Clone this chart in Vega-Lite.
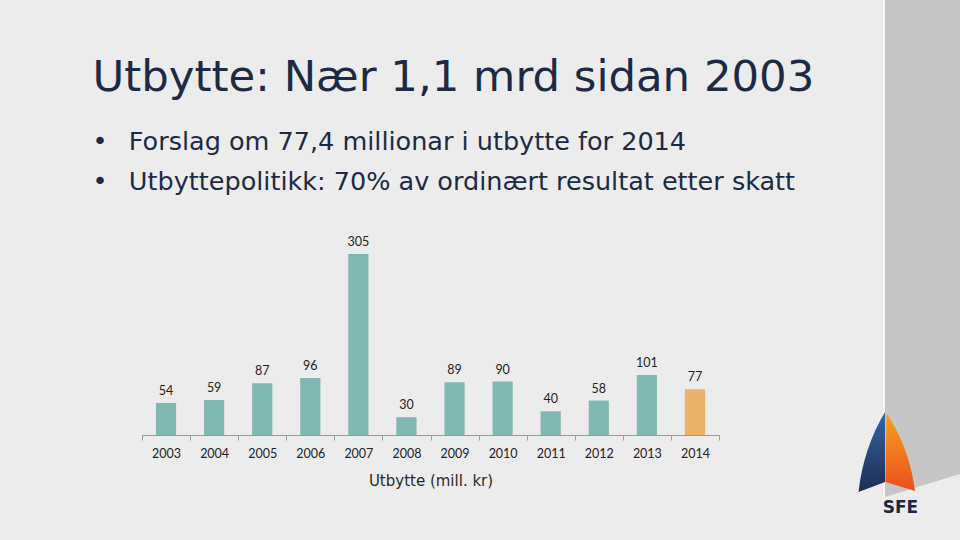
{
  "$schema": "https://vega.github.io/schema/vega-lite/v6.json",
  "background": "#ececec",
  "padding": {"left": 92, "top": 0, "right": 0, "bottom": 25},
  "spacing": 43,
  "config": {"view": {"stroke": null}, "font": "DejaVu Sans"},
  "hconcat": [
    {
      "width": 577,
      "height": 181,
      "title": {
        "text": [" ", "Utbytte: Nær 1,1 mrd sidan 2003"],
        "subtitle": ["•\u00a0\u00a0\u2009Forslag om 77,4 millionar i utbytte for 2014", "•\u00a0\u00a0\u2009Utbyttepolitikk: 70% av ordinært resultat etter skatt"],
        "anchor": "start",
        "dx": -49,
        "font": "DejaVu Sans",
        "fontSize": 43.4,
        "fontWeight": "normal",
        "color": "#1d2a44",
        "lineHeight": 56,
        "baseline": "top",
        "subtitleFont": "DejaVu Sans",
        "subtitleFontSize": 25.5,
        "subtitleColor": "#1d2a44",
        "subtitleLineHeight": 40,
        "subtitlePadding": 29,
        "offset": 40
      },
      "data": {
        "values": [
          {"year": "2003", "value": 54, "status": "utbetalt"},
          {"year": "2004", "value": 59, "status": "utbetalt"},
          {"year": "2005", "value": 87, "status": "utbetalt"},
          {"year": "2006", "value": 96, "status": "utbetalt"},
          {"year": "2007", "value": 305, "status": "utbetalt"},
          {"year": "2008", "value": 30, "status": "utbetalt"},
          {"year": "2009", "value": 89, "status": "utbetalt"},
          {"year": "2010", "value": 90, "status": "utbetalt"},
          {"year": "2011", "value": 40, "status": "utbetalt"},
          {"year": "2012", "value": 58, "status": "utbetalt"},
          {"year": "2013", "value": 101, "status": "utbetalt"},
          {"year": "2014", "value": 77, "status": "forslag"}
        ]
      },
      "layer": [
        {
          "mark": {"type": "bar", "width": {"band": 0.42}},
          "encoding": {
            "x": {
              "field": "year",
              "type": "ordinal",
              "scale": {"paddingInner": 0, "paddingOuter": 0},
              "axis": {
                "title": "Utbytte (mill. kr)",
                "titleFont": "DejaVu Sans",
                "titleFontSize": 15,
                "titleFontWeight": "normal",
                "titleColor": "#2a2a2a",
                "titlePadding": 14,
                "labelAngle": 0,
                "labelFont": "Lato",
                "labelFontSize": 12.5,
                "labelColor": "#222222",
                "labelPadding": 7,
                "tickBand": "extent",
                "tickSize": 5,
                "tickColor": "#9a9a9a",
                "domainColor": "#9a9a9a",
                "grid": false
              }
            },
            "y": {"field": "value", "type": "quantitative", "scale": {"domain": [0, 305], "nice": false}, "axis": null},
            "color": {
              "field": "status",
              "type": "nominal",
              "scale": {"domain": ["utbetalt", "forslag"], "range": ["#80b9b2", "#eab26a"]},
              "legend": null
            }
          }
        },
        {
          "mark": {"type": "text", "baseline": "alphabetic", "dy": -8, "font": "Lato", "fontSize": 12.5, "color": "#222222"},
          "encoding": {
            "x": {"field": "year", "type": "ordinal"},
            "y": {"field": "value", "type": "quantitative"},
            "text": {"field": "value", "type": "quantitative"}
          }
        }
      ]
    },
    {
      "width": 75,
      "height": 181,
      "view": {"stroke": null},
      "title": {
        "text": "SFE",
        "orient": "bottom",
        "anchor": "middle",
        "dx": -22,
        "offset": 2,
        "font": "DejaVu Sans",
        "fontWeight": "bold",
        "fontSize": 17,
        "color": "#1b2540",
        "baseline": "top"
      },
      "data": {"values": [{"logo": "SFE"}]},
      "layer": [
        {
          "mark": {"type": "point", "shape": "M -37.5 -344.5 L 37.5 -344.5 L 37.5 129.5 L -37.5 152.5 Z", "size": 4, "filled": true, "color": "#c6c6c6", "opacity": 1, "strokeWidth": 0},
          "encoding": {}
        },
        {
          "mark": {"type": "point", "shape": "M -39.5 -344.5 L -37.5 -344.5 L -37.5 152.5 L -39.5 153 Z", "size": 4, "filled": true, "color": "#f6f6f6", "opacity": 1, "strokeWidth": 0},
          "encoding": {}
        },
        {
          "mark": {
            "type": "point",
            "shape": "M -37.5 67.5 L -37.5 137.5 L -64 147.5 Q -59 103.5 -37.5 67.5 Z",
            "size": 4,
            "filled": true,
            "opacity": 1,
            "strokeWidth": 0,
            "color": {"gradient": "linear", "x1": 0, "y1": 0, "x2": 0, "y2": 1, "stops": [{"offset": 0, "color": "#3566a6"}, {"offset": 1, "color": "#1d2d52"}]}
          },
          "encoding": {}
        },
        {
          "mark": {
            "type": "point",
            "shape": "M -36 68.5 L -37 137.5 L -7.5 146.5 Q -13 103.5 -36 68.5 Z",
            "size": 4,
            "filled": true,
            "opacity": 1,
            "strokeWidth": 0,
            "color": {"gradient": "linear", "x1": 0, "y1": 0, "x2": 0, "y2": 1, "stops": [{"offset": 0, "color": "#f7a21e"}, {"offset": 1, "color": "#e9501c"}]}
          },
          "encoding": {}
        }
      ]
    }
  ]
}
